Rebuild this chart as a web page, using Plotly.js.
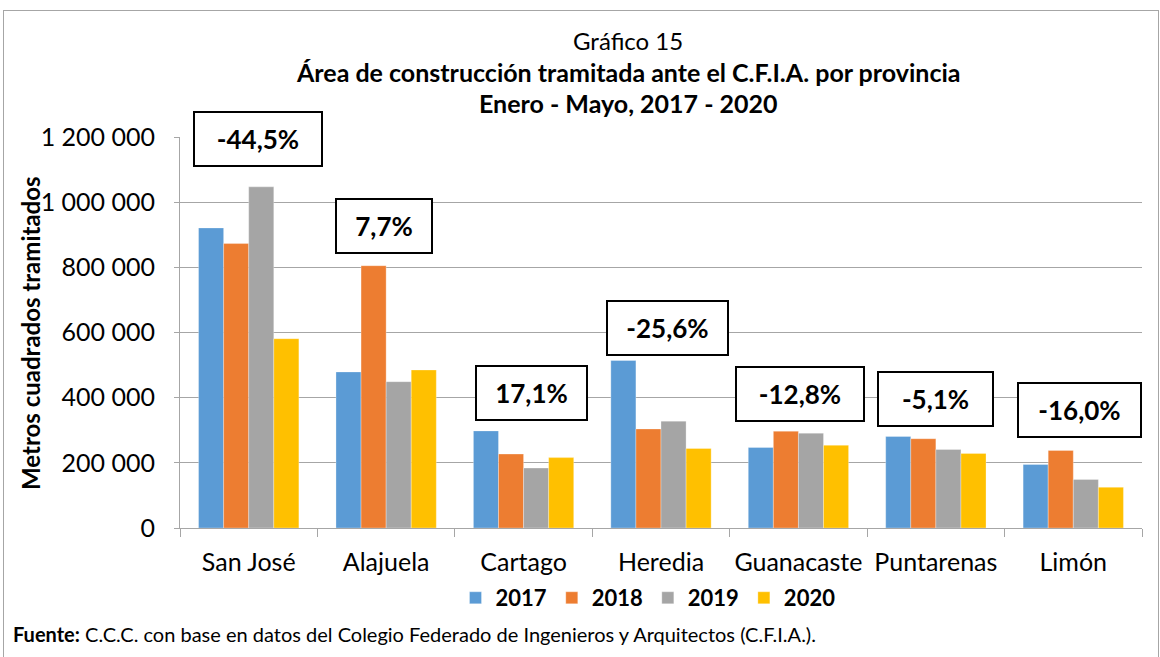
<!DOCTYPE html>
<html><head><meta charset="utf-8">
<script src="https://cdn.plot.ly/plotly-3.0.1.min.js"></script>
<style>
html,body{margin:0;padding:0;background:#fff;}
#chart{width:1160px;height:657px;position:absolute;left:0;top:0;}
#frame{position:absolute;left:3px;top:10px;width:1154px;height:660px;border:1px solid #a6a6a6;pointer-events:none;}
</style></head>
<body>
<div id="chart"></div>
<div id="frame"></div>
<script>
const provincias = ["San José","Alajuela","Cartago","Heredia","Guanacaste","Puntarenas","Limón"];
const anios = ["2017","2018","2019","2020"];
const v2017 = [921000, 479000, 298000, 514000, 247000, 281000, 195000];
const v2018 = [873000, 805000, 227000, 304000, 297000, 274000, 238000];
const v2019 = [1047000, 449000, 184000, 328000, 291000, 241000, 149000];
const v2020 = [581000, 485000, 216000, 244000, 254000, 229000, 125000];
const variacion = ["-44,5%","7,7%","17,1%","-25,6%","-12,8%","-5,1%","-16,0%"];
const yTickVals = [0,200000,400000,600000,800000,1000000,1200000];
const yTitle = "Metros cuadrados tramitados";

// label placement (layout only)
const labelY = [1193000, 928000, 414000, 615000, 411000, 396000, 362000];
const labelShift = [9, -2, 8, 6, 2, 0, 6];
const labelW = [118, 86, 101, 111, 118, 105, 113];

const colors = ["#5B9BD5","#ED7D31","#A5A5A5","#FFC000"];
const series = [v2017, v2018, v2019, v2020];
const FONT = "Lato, 'Open Sans', sans-serif";

const traces = series.map((vals, i) => ({
  type: "bar", name: anios[i], x: provincias, y: vals,
  marker: {color: colors[i], line: {color: "rgba(255,255,255,0.6)", width: 0.5}},
  hoverinfo: "x+y"
}));

// pixel -> paper helpers
const T = 137, B = 129, L = 180, R = 18, W = 1160, H = 657;
const ph = H - T - B, pw = W - L - R;
const py = p => (H - B - p) / ph;
const pxx = p => (p - L) / pw;

const annotations = variacion.map((t, i) => ({
  x: provincias[i], y: labelY[i], xref: "x", yref: "y",
  text: "<b>" + t + "</b>", showarrow: false, xshift: labelShift[i],
  font: {family: FONT, size: 26, color: "#000"},
  bgcolor: "#fff", bordercolor: "#000", borderwidth: 2, borderpad: 4,
  width: labelW[i], height: 44, align: "center", valign: "middle"
}));

annotations.push(
  {x: pxx(628), y: py(40), xref: "paper", yref: "paper", showarrow: false, yanchor: "middle",
   text: "Gráfico 15", font: {family: FONT, size: 24, color: "#000"}},
  {x: pxx(628), y: py(72), xref: "paper", yref: "paper", showarrow: false, yanchor: "middle",
   text: "<b>Área de construcción tramitada ante el C.F.I.A. por provincia</b>", font: {family: FONT, size: 25, color: "#000"}},
  {x: pxx(628), y: py(103), xref: "paper", yref: "paper", showarrow: false, yanchor: "middle",
   text: "<b>Enero - Mayo, 2017 - 2020</b>", font: {family: FONT, size: 25, color: "#000"}},
  {x: pxx(30), y: py(333), xref: "paper", yref: "paper", showarrow: false, xanchor: "center", yanchor: "middle",
   textangle: -90, text: "<b>" + yTitle + "</b>", font: {family: FONT, size: 24, color: "#000"}},
  {x: pxx(11), y: py(634), xref: "paper", yref: "paper", showarrow: false, xanchor: "left", yanchor: "middle",
   text: "<b>Fuente:</b> C.C.C. con base en datos del Colegio Federado de Ingenieros y Arquitectos (C.F.I.A.).",
   font: {family: FONT, size: 20, color: "#000"}}
);

const layout = {
  width: W, height: H,
  margin: {l: L, r: R, t: T, b: B, pad: 0},
  paper_bgcolor: "rgba(0,0,0,0)", plot_bgcolor: "#fff",
  font: {family: FONT, color: "#000"},
  separators: ", ",
  barmode: "group", bargap: 0.27, bargroupgap: 0,
  showlegend: true,
  legend: {orientation: "h", x: pxx(648), xanchor: "center", y: py(598), yanchor: "middle",
           font: {family: FONT, size: 22, color: "#000", weight: "bold"}, traceorder: "normal",
           itemwidth: 30},
  xaxis: {type: "category", showline: true, linecolor: "#a6a6a6", linewidth: 1,
          ticks: "outside", tickson: "boundaries", ticklen: 8, tickcolor: "#a6a6a6",
          ticklabelstandoff: 12,
          tickfont: {family: FONT, size: 25, color: "#000"}, showgrid: false, fixedrange: true},
  yaxis: {range: [0, 1200000], tickvals: yTickVals, tickformat: ",d",
          showline: true, linecolor: "#a6a6a6", linewidth: 1,
          ticks: "outside", ticklen: 5, tickcolor: "#a6a6a6", ticklabelstandoff: 14,
          showgrid: true, gridcolor: "#a6a6a6", gridwidth: 1, zeroline: false,
          tickfont: {family: FONT, size: 25, color: "#000"},
          fixedrange: true},
  annotations: annotations
};

Plotly.newPlot("chart", traces, layout, {displayModeBar: false, staticPlot: true});
</script>
</body></html>
